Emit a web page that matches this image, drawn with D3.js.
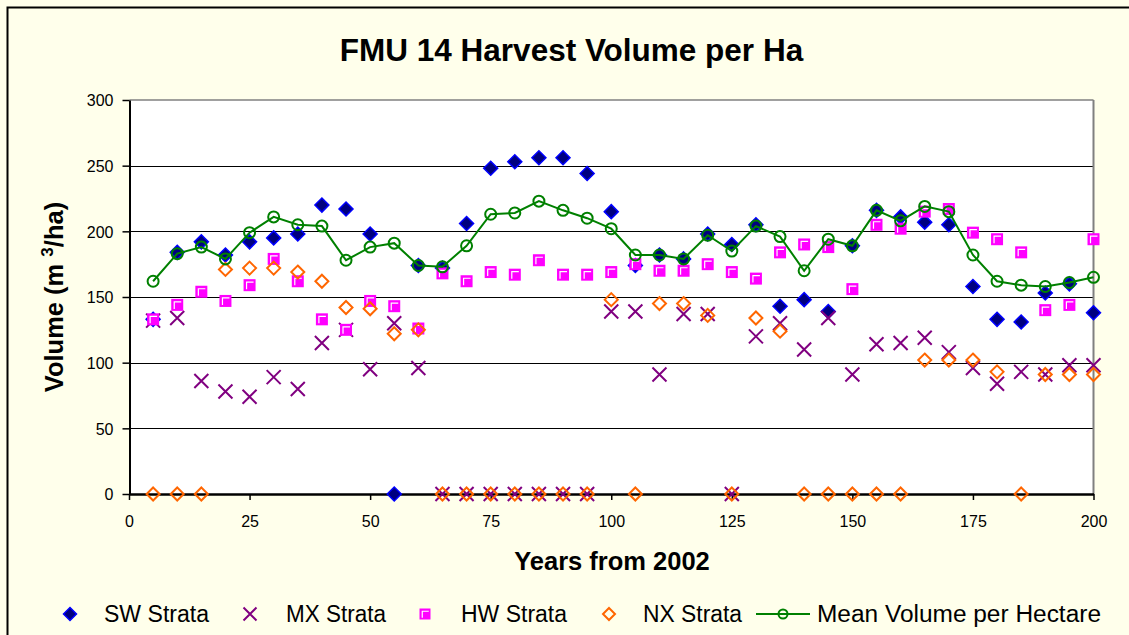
<!DOCTYPE html>
<html>
<head>
<meta charset="utf-8">
<script src="https://cdn.jsdelivr.net/npm/d3@7"></script>
<style>
  html, body { margin: 0; padding: 0; background: #FFFFEB; }
  svg { display: block; }
  text { font-family: "Liberation Sans", Arial, sans-serif; fill: #000; }
</style>
</head>
<body>
<script>
// ---------- data ----------
const years = [5,10,15,20,25,30,35,40,45,50,55,60,65,70,75,80,85,90,95,100,
               105,110,115,120,125,130,135,140,145,150,155,160,165,170,175,180,185,190,195,200];
const swStrata = [133,184,192,182,192,195,198,220,217,198,0,174,172,206,248,253,256,256,244,215,
                  174,182,179,198,190,205,143,148,139,189,216,211,207,205,158,133,131,153,160,138];
const mxStrata = [132,134,86,78,74,89,80,115,125,95,130,96,0,0,0,0,0,0,0,139,
                  139,91,137,137,0,120,130,110,134,91,114,115,119,108,96,84,93,91,98,98];
const hwStrata = [133,144,154,147,159,179,162,133,125,147,143,126,168,162,169,167,178,167,167,169,
                  175,170,170,175,169,164,184,190,188,156,205,202,215,217,199,194,184,140,144,194];
const nxStrata = [0,0,0,171,172,172,169,162,142,141,122,125,0,0,0,0,0,0,0,148,
                  0,145,145,136,0,134,124,0,0,0,0,0,102,102,102,93,0,91,91,91];
const meanVolume = [162,183,188,179,199,211,205,204,178,188,191,174,173,189,213,214,223,216,210,202,
                    182,182,179,197,185,204,196,170,194,189,216,208,219,215,182,162,159,158,161,165];
const xTicks = [0,25,50,75,100,125,150,175,200];
const yTicks = [0,50,100,150,200,250,300];
const gridValues = [50,100,150,200,250];
const seriesNames = ["SW Strata","MX Strata","HW Strata","NX Strata","Mean Volume per Hectare"];
const chartTitle = "FMU 14 Harvest Volume per Ha";
const xTitle = "Years from 2002";

// ---------- layout ----------
const W = 1129, H = 635;
const plot = {left: 129.5, right: 1093.5, top: 100, bottom: 494};
const COLORS = {sw: "#0000FF", swFill: "#000080", mx: "#800080", hw: "#FF00FF", nx: "#FF6600", mean: "#008000"};

const svg = d3.select("body").append("svg").attr("width", W).attr("height", H);
svg.append("rect").attr("x",0).attr("y",0).attr("width",W).attr("height",H).attr("fill","#FFFFEB");
svg.append("rect").attr("x",7.5).attr("y",7.5).attr("width",W+20).attr("height",H+20)
   .attr("fill","none").attr("stroke","#000").attr("stroke-width",2);

const x = d3.scaleLinear().domain([0,200]).range([129, 1093.5]);
const y = d3.scaleLinear().domain([0,300]).range([plot.bottom, plot.top]);

// plot area
svg.append("rect").attr("x",plot.left).attr("y",plot.top)
   .attr("width",plot.right-plot.left).attr("height",plot.bottom-plot.top).attr("fill","#FFFFFF");

// gridlines
svg.append("g").selectAll("line").data(gridValues).join("line")
   .attr("x1",plot.left).attr("x2",plot.right)
   .attr("y1",d=>Math.round(y(d))+0.5).attr("y2",d=>Math.round(y(d))+0.5)
   .attr("stroke","#000").attr("stroke-width",1);

// top & right border (gray)
svg.append("line").attr("x1",plot.left).attr("x2",plot.right).attr("y1",plot.top).attr("y2",plot.top)
   .attr("stroke","#808080").attr("stroke-width",1.5);
svg.append("line").attr("x1",plot.right).attr("x2",plot.right).attr("y1",plot.top).attr("y2",plot.bottom)
   .attr("stroke","#808080").attr("stroke-width",2);

// axes
const yAxis = svg.append("g").attr("transform",`translate(${plot.left},0)`)
   .call(d3.axisLeft(y).tickValues(yTicks).tickSize(7).tickSizeOuter(0).tickPadding(9).tickFormat(d3.format("d")));
yAxis.select(".domain").attr("stroke","#000").attr("stroke-width",2);
yAxis.selectAll(".tick line").attr("stroke","#000").attr("stroke-width",1.5);
yAxis.selectAll(".tick text").attr("font-size",16).attr("dy","0.37em")
   .attr("font-family","'Liberation Sans', Arial, sans-serif");

const xAxis = svg.append("g").attr("transform",`translate(0,${plot.bottom})`)
   .call(d3.axisBottom(x).tickValues(xTicks).tickSize(6).tickSizeOuter(0).tickPadding(16).tickFormat(d3.format("d")));
xAxis.select(".domain").attr("stroke","#000").attr("stroke-width",2.5);
xAxis.selectAll(".tick line").attr("stroke","#000").attr("stroke-width",1.5);
xAxis.selectAll(".tick text").attr("font-size",16)
   .attr("font-family","'Liberation Sans', Arial, sans-serif");

// ---------- markers ----------
function diamondFilled(g, cx, cy, s) {
  g.append("path").attr("d",`M${cx},${cy-s}L${cx+s},${cy}L${cx},${cy+s}L${cx-s},${cy}Z`)
   .attr("fill",COLORS.swFill).attr("stroke",COLORS.sw).attr("stroke-width",1.5);
}
function cross(g, cx, cy, s) {
  g.append("path").attr("d",`M${cx-s},${cy-s}L${cx+s},${cy+s}M${cx-s},${cy+s}L${cx+s},${cy-s}`)
   .attr("fill","none").attr("stroke",COLORS.mx).attr("stroke-width",2);
}
function square(g, cx, cy, s) {
  g.append("rect").attr("x",cx-s).attr("y",cy-s).attr("width",2*s).attr("height",2*s)
   .attr("fill",COLORS.hw);
  const i = s*0.5;
  g.append("path").attr("d",`M${cx-i},${cy+i+1}L${cx-i},${cy-i}L${cx+i+1},${cy-i}`)
   .attr("fill","none").attr("stroke","#FFFFFF").attr("stroke-width",1.2);
}
function diamondHollow(g, cx, cy, s) {
  g.append("path").attr("d",`M${cx},${cy-s}L${cx+s},${cy}L${cx},${cy+s}L${cx-s},${cy}Z`)
   .attr("fill","none").attr("stroke",COLORS.nx).attr("stroke-width",2);
}
function circle(g, cx, cy, r) {
  g.append("circle").attr("cx",cx).attr("cy",cy).attr("r",r)
   .attr("fill","none").attr("stroke",COLORS.mean).attr("stroke-width",2);
}

const marks = svg.append("g");
const gSW = marks.append("g");
years.forEach((t,i)=>diamondFilled(gSW, x(t), y(swStrata[i]), 7));
const gMX = marks.append("g");
years.forEach((t,i)=>cross(gMX, x(t), y(mxStrata[i]), 7));
const gHW = marks.append("g");
years.forEach((t,i)=>square(gHW, x(t), y(hwStrata[i]), 6));
const gNX = marks.append("g");
years.forEach((t,i)=>diamondHollow(gNX, x(t), y(nxStrata[i]), 6.5));
const gMean = marks.append("g");
gMean.append("path")
   .attr("d", d3.line().x((d,i)=>x(years[i])).y(d=>y(d))(meanVolume))
   .attr("fill","none").attr("stroke",COLORS.mean).attr("stroke-width",2);
years.forEach((t,i)=>circle(gMean, x(t), y(meanVolume[i]), 5.5));

// ---------- titles ----------
svg.append("text").attr("x",571.5).attr("y",60.5).attr("text-anchor","middle")
   .attr("font-size",31.5).attr("font-weight","bold").text(chartTitle);
svg.append("text").attr("x",612).attr("y",570).attr("text-anchor","middle")
   .attr("font-size",25.5).attr("font-weight","bold").text(xTitle);
const yt = svg.append("text").attr("transform","translate(63,297) rotate(-90)")
   .attr("text-anchor","middle").attr("font-size",25.5).attr("font-weight","bold");
yt.append("tspan").text("Volume (m ");
yt.append("tspan").attr("font-size",17).attr("dy",-10).text("3");
yt.append("tspan").attr("dy",10).text("/ha)");

// ---------- legend ----------
const legY = 614, legBase = 622, legFont = 23;
const leg = svg.append("g");
const legendItems = [
  {mx: 70, tx: 104, w: 105, draw: (g,cx)=>diamondFilled(g,cx,legY,6.5)},
  {mx: 250, tx: 286, w: 100, draw: (g,cx)=>cross(g,cx,legY,6.5)},
  {mx: 425, tx: 461, w: 106, draw: (g,cx)=>square(g,cx,legY,5.5)},
  {mx: 609, tx: 643, w: 99, draw: (g,cx)=>diamondHollow(g,cx,legY,6)},
  {mx: 783, tx: 817, w: 284, draw: (g,cx)=>{
      g.append("line").attr("x1",756).attr("x2",810).attr("y1",legY).attr("y2",legY)
       .attr("stroke",COLORS.mean).attr("stroke-width",2);
      circle(g,cx,legY,4.5);
  }}
];
legendItems.forEach((it,i)=>{
  const g = leg.append("g");
  it.draw(g, it.mx);
  g.append("text").attr("x",it.tx).attr("y",legBase).attr("font-size",legFont)
   .attr("textLength",it.w).attr("lengthAdjust","spacingAndGlyphs").text(seriesNames[i]);
});
</script>
</body>
</html>
